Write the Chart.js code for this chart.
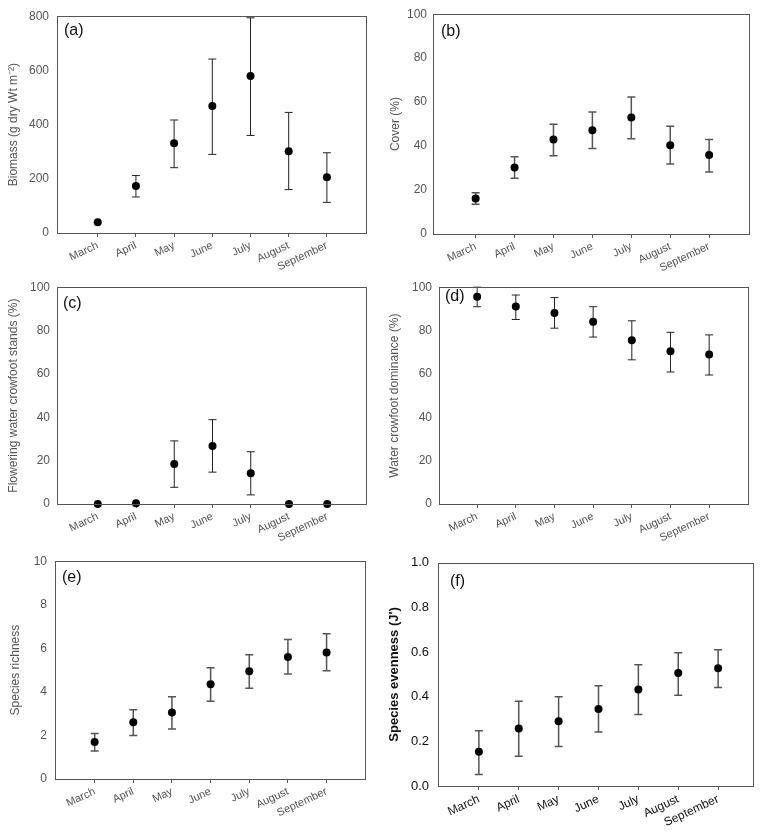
<!DOCTYPE html>
<html>
<head>
<meta charset="utf-8">
<script src="https://cdn.jsdelivr.net/npm/chart.js@4.4.1/dist/chart.umd.min.js"></script>
<style>
  body { margin: 0; background: #fff; width: 764px; height: 834px; overflow: hidden; }
  canvas { position: absolute; }
</style>
</head>
<body>
<canvas id="pa"></canvas>
<canvas id="pb"></canvas>
<canvas id="pc"></canvas>
<canvas id="pd"></canvas>
<canvas id="pe"></canvas>
<canvas id="pf"></canvas>
<script>
const months = ['March', 'April', 'May', 'June', 'July', 'August', 'September'];

// (a) biomass, g dry wt m-2
const biomassMean = [40, 173, 331, 469, 579, 302, 206];
const biomassHi = [null, 212, 417, 642, 794, 445, 296];
const biomassLo = [null, 133, 241, 290, 360, 160, 113];
const biomassTicks = [0, 200, 400, 600, 800];

// (b) cover %
const coverMean = [16.2, 30.3, 43.0, 47.2, 53.0, 40.4, 35.9];
const coverHi = [18.8, 35.2, 49.9, 55.5, 62.3, 49.0, 43.0];
const coverLo = [13.5, 25.4, 35.6, 38.9, 43.3, 31.8, 28.2];

// (c) flowering stands %
const flowerMean = [0, 0.4, 18.5, 26.8, 14.2, 0, 0];
const flowerHi = [null, null, 29.1, 38.9, 24.1, null, null];
const flowerLo = [null, null, 7.7, 14.7, 4.2, null, null];

// (d) dominance %
const domMean = [95.6, 91.1, 88.1, 84.1, 75.5, 70.4, 69.0];
const domHi = [100, 96.4, 95.2, 91.0, 84.5, 79.2, 78.0];
const domLo = [91.0, 85.1, 81.1, 77.0, 66.5, 60.9, 59.5];

const percentTicks = [0, 20, 40, 60, 80, 100];

// (e) species richness
const richMean = [1.70, 2.61, 3.05, 4.35, 4.95, 5.60, 5.81];
const richHi = [2.09, 3.18, 3.78, 5.11, 5.71, 6.40, 6.67];
const richLo = [1.29, 2.00, 2.30, 3.57, 4.17, 4.82, 4.97];
const richTicks = [0, 2, 4, 6, 8, 10];

// (f) species evenness J'
const evenMean = [0.154, 0.258, 0.290, 0.345, 0.432, 0.506, 0.528];
const evenHi = [0.248, 0.380, 0.400, 0.449, 0.543, 0.597, 0.610];
const evenLo = [0.051, 0.133, 0.177, 0.242, 0.320, 0.407, 0.441];
const evenTicks = [0, 0.2, 0.4, 0.6, 0.8, 1.0];

const FONT = "'Liberation Sans', Arial, sans-serif";

// draws error bars, frame and panel letter
const panelPlugin = {
  id: 'panelExtras',
  beforeDatasetsDraw(chart) {
    const o = chart.options.plugins.panelExtras;
    const ctx = chart.ctx;
    const xs = chart.scales.x;
    const ys = chart.scales.y;
    ctx.save();
    ctx.strokeStyle = o.errColor;
    ctx.lineWidth = o.errWidth;
    o.hi.forEach((hi, i) => {
      const lo = o.lo[i];
      if (hi == null || lo == null) return;
      const x = xs.getPixelForValue(i);
      const yh = ys.getPixelForValue(hi);
      const yl = ys.getPixelForValue(lo);
      ctx.beginPath();
      ctx.moveTo(x, yh);
      ctx.lineTo(x, yl);
      ctx.moveTo(x - 4, yh);
      ctx.lineTo(x + 4, yh);
      ctx.moveTo(x - 4, yl);
      ctx.lineTo(x + 4, yl);
      ctx.stroke();
    });
    ctx.restore();
  },
  afterDraw(chart) {
    const o = chart.options.plugins.panelExtras;
    const ctx = chart.ctx;
    const a = chart.chartArea;
    ctx.save();
    ctx.strokeStyle = '#555';
    ctx.lineWidth = 1;
    ctx.strokeRect(Math.round(a.left) - 0.5, Math.round(a.top) + 0.5,
      Math.round(a.right - a.left), Math.round(a.bottom - a.top));
    ctx.fillStyle = '#111';
    ctx.font = '16px ' + FONT;
    ctx.textBaseline = 'middle';
    ctx.fillText(o.letter, a.left + o.lx, a.top + o.ly);
    ctx.restore();
  }
};

function makePanel(id, p) {
  const canvas = document.getElementById(id);
  canvas.width = p.box[2];
  canvas.height = p.box[3];
  canvas.style.left = p.box[0] + 'px';
  canvas.style.top = p.box[1] + 'px';
  const [cx, cy, cw, ch] = p.box;
  const [l, t, r, b] = p.area;

  new Chart(canvas, {
    type: 'scatter',
    data: {
      datasets: [{
        data: p.mean.map((v, i) => ({ x: i, y: v })),
        backgroundColor: '#000',
        borderColor: '#000',
        borderWidth: 0,
        pointRadius: 4,
        pointHoverRadius: 4,
        clip: false,
      }],
    },
    options: {
      responsive: false,
      animation: false,
      events: [],
      layout: { padding: { left: 0, top: t - cy, right: cx + cw - r, bottom: 0 } },
      plugins: {
        legend: { display: false },
        tooltip: { enabled: false },
        panelExtras: {
          hi: p.hi, lo: p.lo, letter: p.letter, lx: p.lx, ly: p.ly,
          errColor: p.errColor, errWidth: p.errWidth,
        },
      },
      scales: {
        x: {
          type: 'linear',
          min: p.xmin,
          max: p.xmax,
          afterBuildTicks: (s) => { s.ticks = months.map((m, i) => ({ value: i })); },
          afterFit: (s) => { s.height = cy + ch - b; },
          border: { display: false },
          grid: { drawOnChartArea: false, drawTicks: true, tickLength: 4, color: '#555' },
          ticks: {
            autoSkip: false,
            minRotation: 25,
            maxRotation: 25,
            padding: 2,
            color: p.tickColor,
            font: { family: FONT, size: p.monthSize },
            callback: (v) => months[v],
          },
        },
        y: {
          min: p.yticks[0],
          max: p.yticks[p.yticks.length - 1],
          afterBuildTicks: (s) => { s.ticks = p.yticks.map((v) => ({ value: v })); },
          afterFit: (s) => { s.width = l - cx; },
          border: { display: false },
          grid: { display: false, drawTicks: false },
          ticks: {
            padding: p.ypad,
            color: p.tickColor,
            font: { family: FONT, size: p.tickSize },
            callback: (v) => (p.decimals ? v.toFixed(p.decimals) : v),
          },
          title: {
            display: true,
            text: p.title,
            color: p.titleColor,
            font: { family: FONT, size: p.titleSize, weight: p.titleWeight },
            padding: { top: p.titlePad, bottom: 0 },
          },
        },
      },
    },
    plugins: [panelPlugin],
  });
}

const grey = {
  tickColor: '#555', tickSize: 12, monthSize: 11,
  titleColor: '#555', titleSize: 12, titleWeight: 'normal',
};

makePanel('pa', Object.assign({}, grey, {
  box: [0, 0, 382, 280], area: [58, 13, 367, 233], xmin: -1.04, xmax: 7.05,
  mean: biomassMean, hi: biomassHi, lo: biomassLo, yticks: biomassTicks, ypad: 9,
  title: 'Biomass (g dry Wt m\u207B\u00B2)', titlePad: 6, letter: '(a)', lx: 6, ly: 14,
  errColor: '#222', errWidth: 1,
}));

makePanel('pb', Object.assign({}, grey, {
  box: [382, 0, 382, 280], area: [434, 10, 750, 234], xmin: -1.07, xmax: 7.05,
  mean: coverMean, hi: coverHi, lo: coverLo, yticks: percentTicks, ypad: 7,
  title: 'Cover (%)', titlePad: 6, letter: '(b)', lx: 7, ly: 17,
  errColor: '#555', errWidth: 1.5,
}));

makePanel('pc', Object.assign({}, grey, {
  box: [0, 272, 382, 276], area: [58, 284, 367, 504], xmin: -1.04, xmax: 7.04,
  mean: flowerMean, hi: flowerHi, lo: flowerLo, yticks: percentTicks, ypad: 8,
  title: 'Flowering water crowfoot stands (%)', titlePad: 6, letter: '(c)', lx: 5, ly: 16,
  errColor: '#222', errWidth: 1,
}));

makePanel('pd', Object.assign({}, grey, {
  box: [382, 272, 382, 276], area: [440, 283, 749, 504], xmin: -0.96, xmax: 7.03,
  mean: domMean, hi: domHi, lo: domLo, yticks: percentTicks, ypad: 8,
  title: 'Water crowfoot dominance (%)', titlePad: 5, letter: '(d)', lx: 5, ly: 9,
  errColor: '#222', errWidth: 1,
}));

makePanel('pe', Object.assign({}, grey, {
  box: [0, 545, 382, 289], area: [56, 557, 366, 779], xmin: -1.0, xmax: 7.02,
  mean: richMean, hi: richHi, lo: richLo, yticks: richTicks, ypad: 9,
  title: 'Species richness', titlePad: 8, letter: '(e)', lx: 6, ly: 16,
  errColor: '#555', errWidth: 1.5,
}));

makePanel('pf', {
  tickColor: '#111', tickSize: 13, monthSize: 12,
  titleColor: '#111', titleSize: 13, titleWeight: 'bold',
  box: [382, 545, 382, 289], area: [439, 556, 754, 786], xmin: -1.0, xmax: 6.9,
  mean: evenMean, hi: evenHi, lo: evenLo, yticks: evenTicks, ypad: 10, decimals: 1,
  title: "Species evenness (J')", titlePad: 5, letter: '(f)', lx: 11, ly: 19,
  errColor: '#555', errWidth: 1.5,
});
</script>
</body>
</html>
